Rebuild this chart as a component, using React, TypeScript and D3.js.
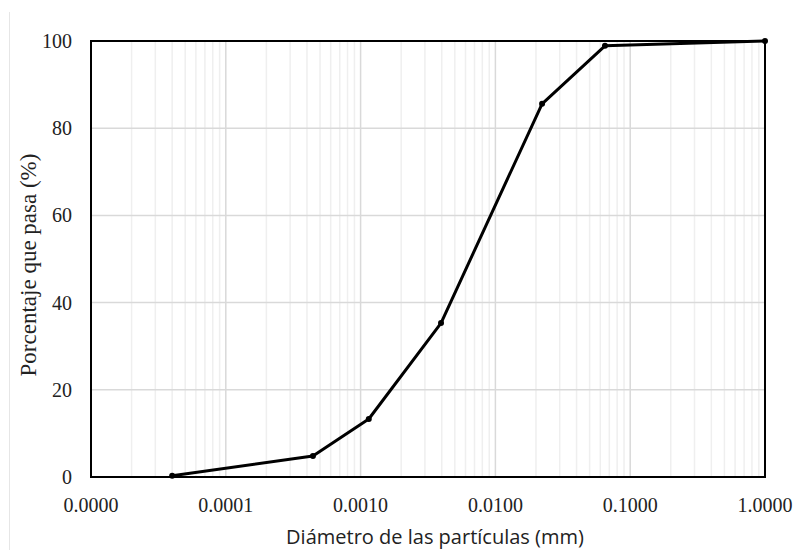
import React from "react";
import * as d3 from "d3";

const diameters = [0.00004, 0.000443, 0.00115, 0.00395, 0.0222, 0.065, 1.0];
const passing = [0.3, 4.8, 13.3, 35.3, 85.6, 98.9, 100];
const xTickValues = [0.00001, 0.0001, 0.001, 0.01, 0.1, 1];
const yTickValues = [0, 20, 40, 60, 80, 100];

export default function App() {
  const W = 796, H = 550;
  const m = { left: 91, top: 41, right: 765, bottom: 477 };
  const x = d3.scaleLog().domain([0.00001, 1]).range([m.left, m.right]);
  const y = d3.scaleLinear().domain([0, 100]).range([m.bottom, m.top]);

  const minor: number[] = [];
  for (let e = -5; e < 0; e++) {
    for (let k = 2; k <= 9; k++) minor.push(k * Math.pow(10, e));
  }
  const pts = diameters.map((d, i) => [d, passing[i]] as [number, number]);
  const line = d3.line<[number, number]>().x(d => x(d[0])).y(d => y(d[1]));

  return (
    <svg width={W} height={H} style={{ position: "absolute", left: 0, top: 0 }}>
      <rect width={W} height={H} fill="#fff" />
      <line x1={9.5} x2={9.5} y1={12} y2={H} stroke="#e6e6e6" strokeWidth={1} />
      {minor.map((v, i) => (
        <line key={"mn" + i} x1={x(v)} x2={x(v)} y1={m.top} y2={m.bottom} stroke="#efefef" strokeWidth={1.5} />
      ))}
      {xTickValues.map((v, i) => (
        <line key={"mj" + i} x1={x(v)} x2={x(v)} y1={m.top} y2={m.bottom} stroke="#d9d9d9" strokeWidth={1.5} />
      ))}
      {yTickValues.map((v, i) => (
        <line key={"hy" + i} x1={m.left} x2={m.right} y1={y(v)} y2={y(v)} stroke="#d9d9d9" strokeWidth={1.5} />
      ))}
      <rect x={m.left} y={m.top} width={m.right - m.left} height={m.bottom - m.top} fill="none" stroke="#000" strokeWidth={2} />
      <path d={line(pts) || ""} fill="none" stroke="#000" strokeWidth={3} strokeLinejoin="round" />
      {pts.map((p, i) => (
        <circle key={"pt" + i} cx={x(p[0])} cy={y(p[1])} r={3} fill="#000" />
      ))}
      {yTickValues.map((v, i) => (
        <text key={"yt" + i} x={72} y={y(v)} dy="0.35em" textAnchor="end" fontFamily="Liberation Serif" fontSize={20} fill="#222">{v}</text>
      ))}
      {xTickValues.map((v, i) => (
        <text key={"xt" + i} x={x(v)} y={512} textAnchor="middle" fontFamily="Liberation Serif" fontSize={20} fill="#222">{v.toFixed(4)}</text>
      ))}
      <text x={435} y={544} textAnchor="middle" fontFamily="Open Sans" fontSize={20} fill="#222">Diámetro de las partículas (mm)</text>
      <text transform={`translate(36,265) rotate(-90)`} textAnchor="middle" fontFamily="Liberation Serif" fontSize={23} fill="#222">Porcentaje que pasa (%)</text>
    </svg>
  );
}
